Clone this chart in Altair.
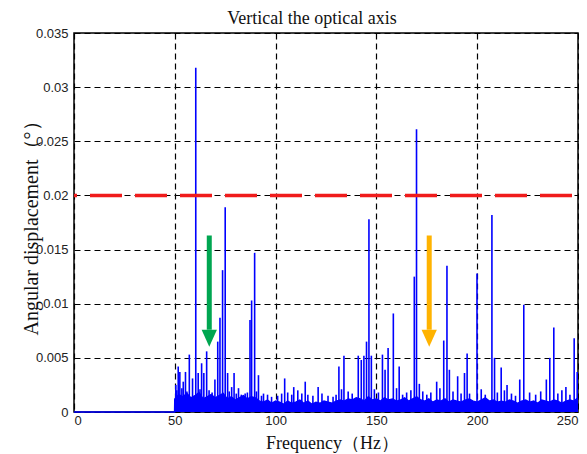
import altair as alt
import pandas as pd

# ---------------- data ----------------
title_text = "Vertical the optical axis"
x_title = "Frequency（Hz）"
y_title = "Angular displacement（°）"
x_ticks = [0, 50, 100, 150, 200, 250]
y_ticks = [0, 0.005, 0.01, 0.015, 0.02, 0.025, 0.03, 0.035]

# dense noise floor (Hz, amplitude)
floor_freq = [0, 49.9] + list(range(50, 251, 2))
floor_amp = [0, 0,
             0.0012, 0.0016, 0.0014, 0.0017, 0.0013, 0.0015, 0.0018, 0.0012, 0.0014, 0.0016,
             0.0013, 0.0015, 0.0017, 0.0012, 0.0014, 0.0011, 0.0013, 0.0015, 0.0012, 0.0014, 0.0013,
             0.0010, 0.0009, 0.0011, 0.0008, 0.0010, 0.0009, 0.0007, 0.0010, 0.0008, 0.0009,
             0.0011, 0.0008, 0.0010, 0.0007, 0.0009, 0.0008, 0.0010, 0.0009, 0.0008, 0.0010,
             0.0011, 0.0010, 0.0012, 0.0011, 0.0013, 0.0012, 0.0010, 0.0014, 0.0011, 0.0012,
             0.0010, 0.0013, 0.0011, 0.0012, 0.0010, 0.0011, 0.0013, 0.0010, 0.0012, 0.0014,
             0.0011, 0.0010, 0.0012, 0.0009, 0.0011, 0.0010, 0.0012, 0.0009, 0.0011, 0.0010,
             0.0009, 0.0011, 0.0012, 0.0010, 0.0009, 0.0011, 0.0013, 0.0010, 0.0011, 0.0009,
             0.0010, 0.0009, 0.0011, 0.0010, 0.0008, 0.0010, 0.0011, 0.0009, 0.0010, 0.0008,
             0.0011, 0.0010, 0.0009, 0.0011, 0.0010, 0.0008, 0.0010, 0.0011, 0.0010, 0.0013]

# spectral peaks (Hz, amplitude)
peak_freq = [50.5, 51.7, 52.5, 54.2, 55.3, 57.2, 58.8, 60.4, 61.6, 63.3, 64.4, 65.8,
             69.9, 71.3, 72.4, 73.7, 75.0, 76.2, 78.2, 79.4, 81.6, 84.9, 87.3, 88.1,
             89.6, 91.5, 94.0, 104.5, 109.0, 114.7, 121.1, 131.4, 132.7, 133.9, 141.0,
             142.5, 143.8, 145.1, 146.3, 147.5, 153.0, 154.3, 155.8, 158.4, 161.3, 167.1,
             168.8, 169.9, 171.3, 179.9, 183.4, 185.0, 186.2, 190.3, 193.7, 195.0, 196.2,
             199.9, 207.3, 208.6, 211.9, 214.8, 221.1, 223.1, 234.3, 236.0, 238.0, 244.0,
             248.1, 249.6]
peak_amp = [0.0025, 0.0042, 0.0037, 0.0028, 0.0037, 0.0053, 0.0031, 0.0318, 0.0036, 0.0045,
            0.0036, 0.0056, 0.0030, 0.0065, 0.0087, 0.0131, 0.0189, 0.0036, 0.0023, 0.0036,
            0.0022, 0.0017, 0.0085, 0.0103, 0.0147, 0.0034, 0.0017, 0.0031, 0.0023, 0.0028,
            0.0023, 0.0042, 0.0021, 0.0052, 0.0052, 0.0048, 0.0052, 0.0065, 0.0178, 0.0052,
            0.0053, 0.0039, 0.0059, 0.0091, 0.0042, 0.0020, 0.0125, 0.0261, 0.0026, 0.0028,
            0.0066, 0.0135, 0.0039, 0.0033, 0.0036, 0.0054, 0.0017, 0.0128, 0.0182, 0.0050,
            0.0041, 0.0025, 0.0030, 0.0099, 0.0030, 0.0050, 0.0078, 0.0023, 0.0068, 0.0037]

# small spikes riding on the floor
minor_freq = [51, 53.5, 56, 62.5, 67, 68.5, 77, 80.5, 83, 86, 90.5, 93, 96, 98, 101, 103,
              106, 108, 111, 113, 116, 118.5, 123, 126, 128.5, 130, 136, 138, 149, 151, 160,
              163, 165, 173, 175, 177, 181.5, 188, 192, 202, 204, 210, 213.5, 217, 219, 226,
              229, 231.5, 240, 242, 246]
minor_amp = [0.0020, 0.0022, 0.0019, 0.0021, 0.0020, 0.0018, 0.0019, 0.0017, 0.0016, 0.0018,
             0.0019, 0.0015, 0.0016, 0.0014, 0.0015, 0.0017, 0.0018, 0.0016, 0.0020, 0.0017,
             0.0016, 0.0015, 0.0017, 0.0015, 0.0014, 0.0016, 0.0019, 0.0017, 0.0021, 0.0018,
             0.0022, 0.0016, 0.0018, 0.0019, 0.0016, 0.0018, 0.0022, 0.0019, 0.0017, 0.0021,
             0.0016, 0.0018, 0.0020, 0.0017, 0.0015, 0.0018, 0.0016, 0.0019, 0.0017, 0.0020,
             0.0016]

threshold = [0.02]

arrow_name = ["green", "orange"]
arrow_freq = [67.1, 176.2]
arrow_tail = [0.0163, 0.0163]
arrow_neck = [0.0076, 0.0076]
arrow_head = [0.0068, 0.0068]

# ---------------- tables ----------------
floor_df = pd.DataFrame({"freq": floor_freq, "amp": floor_amp})
spike_df = pd.DataFrame({"freq": peak_freq + minor_freq, "amp": peak_amp + minor_amp})
thr_df = pd.DataFrame({"amp": threshold})
arrow_df = pd.DataFrame({"name": arrow_name, "freq": arrow_freq, "tail": arrow_tail,
                         "neck": arrow_neck, "head": arrow_head})

# ---------------- scales / axes ----------------
xscale = alt.Scale(domain=[0, 250], nice=False, zero=False)
yscale = alt.Scale(domain=[0, 0.035], nice=False)
xaxis = alt.Axis(values=x_ticks, title=x_title, format="d", labelPadding=2,
                 titleX=258, titleY=36, titleBaseline="alphabetic")
yaxis = alt.Axis(values=y_ticks, title=y_title, format=".3~f", labelPadding=6,
                 titleX=-37, titleY=190, titleBaseline="alphabetic", titleFontSize=20)

X = alt.X("freq:Q", scale=xscale, axis=xaxis)
BLUE = "#0000ff"

floor = alt.Chart(floor_df).mark_area(
    color=BLUE, opacity=1, line={"color": BLUE, "strokeWidth": 1.5}
).encode(x=X, y=alt.Y("amp:Q", scale=yscale, axis=yaxis))

spikes = alt.Chart(spike_df).mark_rule(color=BLUE, strokeWidth=1.6).encode(
    x=X, y=alt.Y("amp:Q", scale=yscale, axis=yaxis), y2=alt.datum(0)
)

thr = alt.Chart(thr_df).mark_rule(
    color="#f01c1c", strokeWidth=3.5, strokeDash=[32, 13], strokeDashOffset=39
).encode(y=alt.Y("amp:Q", scale=yscale, axis=yaxis))

acolor = alt.Color("name:N", scale=alt.Scale(domain=arrow_name, range=["#00a651", "#ffb300"]),
                   legend=None)
shafts = alt.Chart(arrow_df).mark_rule(strokeWidth=5).encode(
    x=X, y=alt.Y("tail:Q", scale=yscale, axis=yaxis), y2="neck:Q", color=acolor
)
heads = alt.Chart(arrow_df).mark_point(
    shape="M-0.9,-1L0.9,-1L0,1Z", size=289, filled=True, opacity=1, strokeWidth=0
).encode(x=X, y=alt.Y("head:Q", scale=yscale, axis=yaxis), color=acolor)

chart = alt.layer(floor, spikes, thr, shafts, heads).properties(
    width=504, height=379,
    title=alt.TitleParams(title_text, font="Liberation Serif", fontSize=18,
                          fontWeight="normal", color="#111", anchor="middle",
                          dx=-14, dy=25, offset=6, baseline="bottom"),
    autosize=alt.AutoSizeParams(type="none"),
    padding={"left": 66, "top": 25, "right": 1, "bottom": 42},
).configure_view(
    stroke="black", strokeWidth=1.5
).configure_axis(
    grid=True, gridColor="black", gridDash=[6, 4], gridWidth=1.2, gridOpacity=1,
    domain=False, ticks=False,
    labelFont="Liberation Sans", labelFontSize=13, labelColor="#222",
    titleFont="Liberation Serif", titleFontSize=18, titleFontWeight="normal", titleColor="#111",
)

chart.save("out.html", embed_options={"renderer": "svg", "actions": False})
